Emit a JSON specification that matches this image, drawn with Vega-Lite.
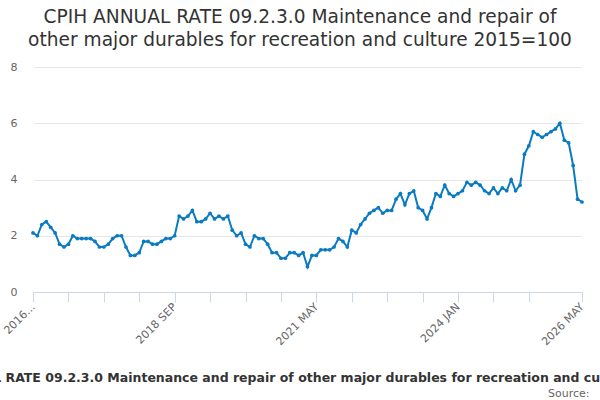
{
  "$schema": "https://vega.github.io/schema/vega-lite/v6.json",
  "width": 549,
  "height": 225,
  "autosize": {"type": "none"},
  "padding": {"left": 33, "top": 67, "right": 18, "bottom": 108},
  "title": {
    "text": ["CPIH ANNUAL RATE 09.2.3.0 Maintenance and repair of", "other major durables for recreation and culture 2015=100"],
    "font": "DejaVu Sans",
    "fontSize": 18.6,
    "fontWeight": "normal",
    "color": "#333333",
    "anchor": "middle",
    "dx": -7.5,
    "offset": 11,
    "lineHeight": 23
  },
  "data": {
    "values": [
      {"month": "2016 JAN", "rate": 2.1}, {"month": "2016 FEB", "rate": 2.0}, {"month": "2016 MAR", "rate": 2.4}, {"month": "2016 APR", "rate": 2.5},
      {"month": "2016 MAY", "rate": 2.3}, {"month": "2016 JUN", "rate": 2.1}, {"month": "2016 JUL", "rate": 1.7}, {"month": "2016 AUG", "rate": 1.6},
      {"month": "2016 SEP", "rate": 1.7}, {"month": "2016 OCT", "rate": 2.0}, {"month": "2016 NOV", "rate": 1.9}, {"month": "2016 DEC", "rate": 1.9},
      {"month": "2017 JAN", "rate": 1.9}, {"month": "2017 FEB", "rate": 1.9}, {"month": "2017 MAR", "rate": 1.8}, {"month": "2017 APR", "rate": 1.6},
      {"month": "2017 MAY", "rate": 1.6}, {"month": "2017 JUN", "rate": 1.7}, {"month": "2017 JUL", "rate": 1.9}, {"month": "2017 AUG", "rate": 2.0},
      {"month": "2017 SEP", "rate": 2.0}, {"month": "2017 OCT", "rate": 1.6}, {"month": "2017 NOV", "rate": 1.3}, {"month": "2017 DEC", "rate": 1.3},
      {"month": "2018 JAN", "rate": 1.4}, {"month": "2018 FEB", "rate": 1.8}, {"month": "2018 MAR", "rate": 1.8}, {"month": "2018 APR", "rate": 1.7},
      {"month": "2018 MAY", "rate": 1.7}, {"month": "2018 JUN", "rate": 1.8}, {"month": "2018 JUL", "rate": 1.9}, {"month": "2018 AUG", "rate": 1.9},
      {"month": "2018 SEP", "rate": 2.0}, {"month": "2018 OCT", "rate": 2.7}, {"month": "2018 NOV", "rate": 2.6}, {"month": "2018 DEC", "rate": 2.7},
      {"month": "2019 JAN", "rate": 2.9}, {"month": "2019 FEB", "rate": 2.5}, {"month": "2019 MAR", "rate": 2.5}, {"month": "2019 APR", "rate": 2.6},
      {"month": "2019 MAY", "rate": 2.8}, {"month": "2019 JUN", "rate": 2.6}, {"month": "2019 JUL", "rate": 2.7}, {"month": "2019 AUG", "rate": 2.6},
      {"month": "2019 SEP", "rate": 2.7}, {"month": "2019 OCT", "rate": 2.2}, {"month": "2019 NOV", "rate": 2.0}, {"month": "2019 DEC", "rate": 2.1},
      {"month": "2020 JAN", "rate": 1.7}, {"month": "2020 FEB", "rate": 1.6}, {"month": "2020 MAR", "rate": 2.0}, {"month": "2020 APR", "rate": 1.9},
      {"month": "2020 MAY", "rate": 1.9}, {"month": "2020 JUN", "rate": 1.7}, {"month": "2020 JUL", "rate": 1.4}, {"month": "2020 AUG", "rate": 1.4},
      {"month": "2020 SEP", "rate": 1.2}, {"month": "2020 OCT", "rate": 1.2}, {"month": "2020 NOV", "rate": 1.4}, {"month": "2020 DEC", "rate": 1.4},
      {"month": "2021 JAN", "rate": 1.3}, {"month": "2021 FEB", "rate": 1.4}, {"month": "2021 MAR", "rate": 0.9}, {"month": "2021 APR", "rate": 1.3},
      {"month": "2021 MAY", "rate": 1.3}, {"month": "2021 JUN", "rate": 1.5}, {"month": "2021 JUL", "rate": 1.5}, {"month": "2021 AUG", "rate": 1.5},
      {"month": "2021 SEP", "rate": 1.6}, {"month": "2021 OCT", "rate": 1.9}, {"month": "2021 NOV", "rate": 1.8}, {"month": "2021 DEC", "rate": 1.6},
      {"month": "2022 JAN", "rate": 2.2}, {"month": "2022 FEB", "rate": 2.1}, {"month": "2022 MAR", "rate": 2.4}, {"month": "2022 APR", "rate": 2.6},
      {"month": "2022 MAY", "rate": 2.8}, {"month": "2022 JUN", "rate": 2.9}, {"month": "2022 JUL", "rate": 3.0}, {"month": "2022 AUG", "rate": 2.8},
      {"month": "2022 SEP", "rate": 2.9}, {"month": "2022 OCT", "rate": 2.9}, {"month": "2022 NOV", "rate": 3.3}, {"month": "2022 DEC", "rate": 3.5},
      {"month": "2023 JAN", "rate": 3.1}, {"month": "2023 FEB", "rate": 3.5}, {"month": "2023 MAR", "rate": 3.6}, {"month": "2023 APR", "rate": 3.0},
      {"month": "2023 MAY", "rate": 2.9}, {"month": "2023 JUN", "rate": 2.6}, {"month": "2023 JUL", "rate": 3.0}, {"month": "2023 AUG", "rate": 3.5},
      {"month": "2023 SEP", "rate": 3.4}, {"month": "2023 OCT", "rate": 3.8}, {"month": "2023 NOV", "rate": 3.5}, {"month": "2023 DEC", "rate": 3.4},
      {"month": "2024 JAN", "rate": 3.5}, {"month": "2024 FEB", "rate": 3.6}, {"month": "2024 MAR", "rate": 3.9}, {"month": "2024 APR", "rate": 3.8},
      {"month": "2024 MAY", "rate": 3.9}, {"month": "2024 JUN", "rate": 3.8}, {"month": "2024 JUL", "rate": 3.6}, {"month": "2024 AUG", "rate": 3.5},
      {"month": "2024 SEP", "rate": 3.7}, {"month": "2024 OCT", "rate": 3.5}, {"month": "2024 NOV", "rate": 3.7}, {"month": "2024 DEC", "rate": 3.6},
      {"month": "2025 JAN", "rate": 4.0}, {"month": "2025 FEB", "rate": 3.6}, {"month": "2025 MAR", "rate": 3.8}, {"month": "2025 APR", "rate": 4.9},
      {"month": "2025 MAY", "rate": 5.2}, {"month": "2025 JUN", "rate": 5.7}, {"month": "2025 JUL", "rate": 5.6}, {"month": "2025 AUG", "rate": 5.5},
      {"month": "2025 SEP", "rate": 5.6}, {"month": "2025 OCT", "rate": 5.7}, {"month": "2025 NOV", "rate": 5.8}, {"month": "2025 DEC", "rate": 6.0},
      {"month": "2026 JAN", "rate": 5.4}, {"month": "2026 FEB", "rate": 5.3}, {"month": "2026 MAR", "rate": 4.5}, {"month": "2026 APR", "rate": 3.3},
      {"month": "2026 MAY", "rate": 3.2}
    ]
  },
  "mark": {
    "type": "line",
    "color": "#0b7bc1",
    "strokeWidth": 2,
    "point": {"filled": true, "size": 14, "color": "#0b7bc1"}
  },
  "encoding": {
    "x": {
      "field": "month",
      "type": "ordinal",
      "sort": null,
      "scale": {"type": "point", "padding": 0},
      "axis": {
        "values": ["2016 JAN", "2016 SEP", "2017 MAY", "2018 JAN", "2018 SEP", "2019 MAY", "2020 JAN", "2020 SEP", "2021 MAY", "2022 JAN", "2022 SEP", "2023 MAY", "2024 JAN", "2024 SEP", "2025 MAY", "2026 MAY"],
        "labelExpr": "datum.value == '2016 JAN' ? '2016...' : (indexof(['2018 SEP', '2021 MAY', '2024 JAN', '2026 MAY'], datum.value) >= 0 ? datum.value : '')",
        "labelAngle": -45,
        "labelAlign": "right",
        "labelBaseline": "middle",
        "labelFont": "DejaVu Sans",
        "labelFontSize": 11,
        "labelColor": "#666666",
        "labelPadding": 3,
        "labelOverlap": false,
        "domainColor": "#ccd6eb",
        "tickColor": "#ccd6eb",
        "tickSize": 10,
        "grid": false,
        "title": "CPIH ANNUAL RATE 09.2.3.0 Maintenance and repair of other major durables for recreation and culture 2015=100",
        "titleFont": "DejaVu Sans",
        "titleFontSize": 12.5,
        "titleFontWeight": "bold",
        "titleColor": "#333333",
        "titleAlign": "center",
        "titleAnchor": null,
        "titleBaseline": "middle",
        "titleX": 274,
        "titleY": 85,
        "titleLimit": 2000
      }
    },
    "y": {
      "field": "rate",
      "type": "quantitative",
      "scale": {"domain": [0, 8], "nice": false, "zero": true},
      "axis": {
        "values": [0, 2, 4, 6, 8],
        "domain": false,
        "ticks": false,
        "tickSize": 0,
        "gridColor": "#e6e6e6",
        "labelFont": "DejaVu Sans",
        "labelFontSize": 11,
        "labelColor": "#666666",
        "labelPadding": 16,
        "title": "Source:",
        "titleFont": "DejaVu Sans",
        "titleFontSize": 11,
        "titleFontWeight": "normal",
        "titleColor": "#666666",
        "titleAngle": 0,
        "titleAlign": "right",
        "titleBaseline": "middle",
        "titleAnchor": null,
        "titleX": 556,
        "titleY": 326
      }
    }
  },
  "config": {
    "view": {"stroke": null},
    "background": "#ffffff"
  }
}
